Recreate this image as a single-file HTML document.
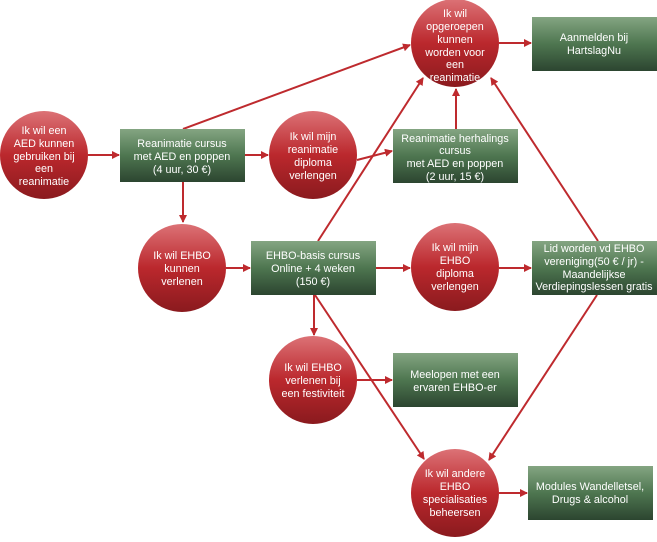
<!DOCTYPE html>
<html><head><meta charset="utf-8"><style>
body{margin:0;background:#fff;}
svg text{font-family:"Liberation Sans",sans-serif;font-size:10.8px;fill:#fff;text-anchor:middle;}
</style></head><body>
<svg width="657" height="537" viewBox="0 0 657 537" xmlns="http://www.w3.org/2000/svg">
<defs>
<linearGradient id="r" x1="0" y1="0" x2="0" y2="1">
<stop offset="0" stop-color="#dc7276"/><stop offset="0.5" stop-color="#bb282d"/><stop offset="1" stop-color="#8a1a1e"/></linearGradient>
<linearGradient id="g" x1="0" y1="0" x2="0" y2="1">
<stop offset="0" stop-color="#84a582"/><stop offset="0.5" stop-color="#4e7650"/><stop offset="1" stop-color="#2c4530"/></linearGradient>
<marker id="a" markerWidth="8" markerHeight="8" refX="7" refY="4" orient="auto" markerUnits="userSpaceOnUse"><path d="M0,0 L8,4 L0,8 z" fill="#be2a2e"/></marker>
</defs>
<g stroke="#be2a2e" stroke-width="2" fill="none" marker-end="url(#a)">
<line x1="88" y1="155" x2="119" y2="155"/>
<line x1="245" y1="155" x2="268" y2="155"/>
<line x1="357" y1="160" x2="392" y2="151"/>
<line x1="456" y1="129" x2="456" y2="89"/>
<line x1="183" y1="129" x2="410" y2="45"/>
<line x1="183" y1="182" x2="183" y2="222"/>
<line x1="226" y1="268" x2="250" y2="268"/>
<line x1="318" y1="241" x2="423" y2="78"/>
<line x1="376" y1="268" x2="410" y2="268"/>
<line x1="499" y1="268" x2="531" y2="268"/>
<line x1="598" y1="241" x2="491" y2="78"/>
<line x1="597" y1="295" x2="489" y2="460"/>
<line x1="314" y1="295" x2="314" y2="335"/>
<line x1="315" y1="295" x2="424" y2="459"/>
<line x1="357" y1="380" x2="392" y2="380"/>
<line x1="499" y1="43" x2="531" y2="43"/>
<line x1="499" y1="493" x2="527" y2="493"/>
</g>
<g>
<circle cx="44" cy="155" r="44" fill="url(#r)"/>
<circle cx="313" cy="155" r="44" fill="url(#r)"/>
<circle cx="455" cy="43" r="44" fill="url(#r)"/>
<circle cx="182" cy="268" r="44" fill="url(#r)"/>
<circle cx="455" cy="267" r="44" fill="url(#r)"/>
<circle cx="313" cy="380" r="44" fill="url(#r)"/>
<circle cx="455" cy="493" r="44" fill="url(#r)"/>
<rect x="120" y="129" width="125" height="53" fill="url(#g)"/>
<rect x="393" y="129" width="125" height="54" fill="url(#g)"/>
<rect x="532" y="17" width="125" height="54" fill="url(#g)"/>
<rect x="251" y="241" width="125" height="54" fill="url(#g)"/>
<rect x="532" y="241" width="125" height="54" fill="url(#g)"/>
<rect x="393" y="353" width="125" height="54" fill="url(#g)"/>
<rect x="528" y="466" width="125" height="54" fill="url(#g)"/>
</g>
<text x="44" y="134">Ik wil een</text><text x="44" y="147">AED kunnen</text><text x="44" y="160">gebruiken bij</text><text x="44" y="172">een</text><text x="44" y="185">reanimatie</text>
<text x="182" y="147">Reanimatie cursus</text><text x="182" y="160">met AED en poppen</text><text x="182" y="173">(4 uur, 30 €)</text>
<text x="313" y="140">Ik wil mijn</text><text x="313" y="153">reanimatie</text><text x="313" y="166">diploma</text><text x="313" y="179">verlengen</text>
<text x="455" y="142">Reanimatie herhalings</text><text x="455" y="154">cursus</text><text x="455" y="167">met AED en poppen</text><text x="455" y="180">(2 uur, 15 €)</text>
<text x="455" y="17">Ik wil</text><text x="455" y="30">opgeroepen</text><text x="455" y="43">kunnen</text><text x="455" y="56">worden voor</text><text x="455" y="68">een</text><text x="455" y="81">reanimatie</text>
<text x="594" y="41">Aanmelden bij</text><text x="594" y="54">HartslagNu</text>
<text x="182" y="259">Ik wil EHBO</text><text x="182" y="272">kunnen</text><text x="182" y="285">verlenen</text>
<text x="313" y="259">EHBO-basis cursus</text><text x="313" y="272">Online + 4 weken</text><text x="313" y="285">(150 €)</text>
<text x="455" y="251">Ik wil mijn</text><text x="455" y="264">EHBO</text><text x="455" y="277">diploma</text><text x="455" y="290">verlengen</text>
<text x="594" y="252">Lid worden vd EHBO</text><text x="594" y="265">vereniging(50 € / jr) -</text><text x="594" y="278">Maandelijkse</text><text x="594" y="290">Verdiepingslessen gratis</text>
<text x="313" y="371">Ik wil EHBO</text><text x="313" y="384">verlenen bij</text><text x="313" y="397">een festiviteit</text>
<text x="455" y="378">Meelopen met een</text><text x="455" y="391">ervaren EHBO-er</text>
<text x="455" y="477">Ik wil andere</text><text x="455" y="490">EHBO</text><text x="455" y="503">specialisaties</text><text x="455" y="516">beheersen</text>
<text x="590" y="490">Modules Wandelletsel,</text><text x="590" y="503">Drugs &amp; alcohol</text>
</svg>
</body></html>
